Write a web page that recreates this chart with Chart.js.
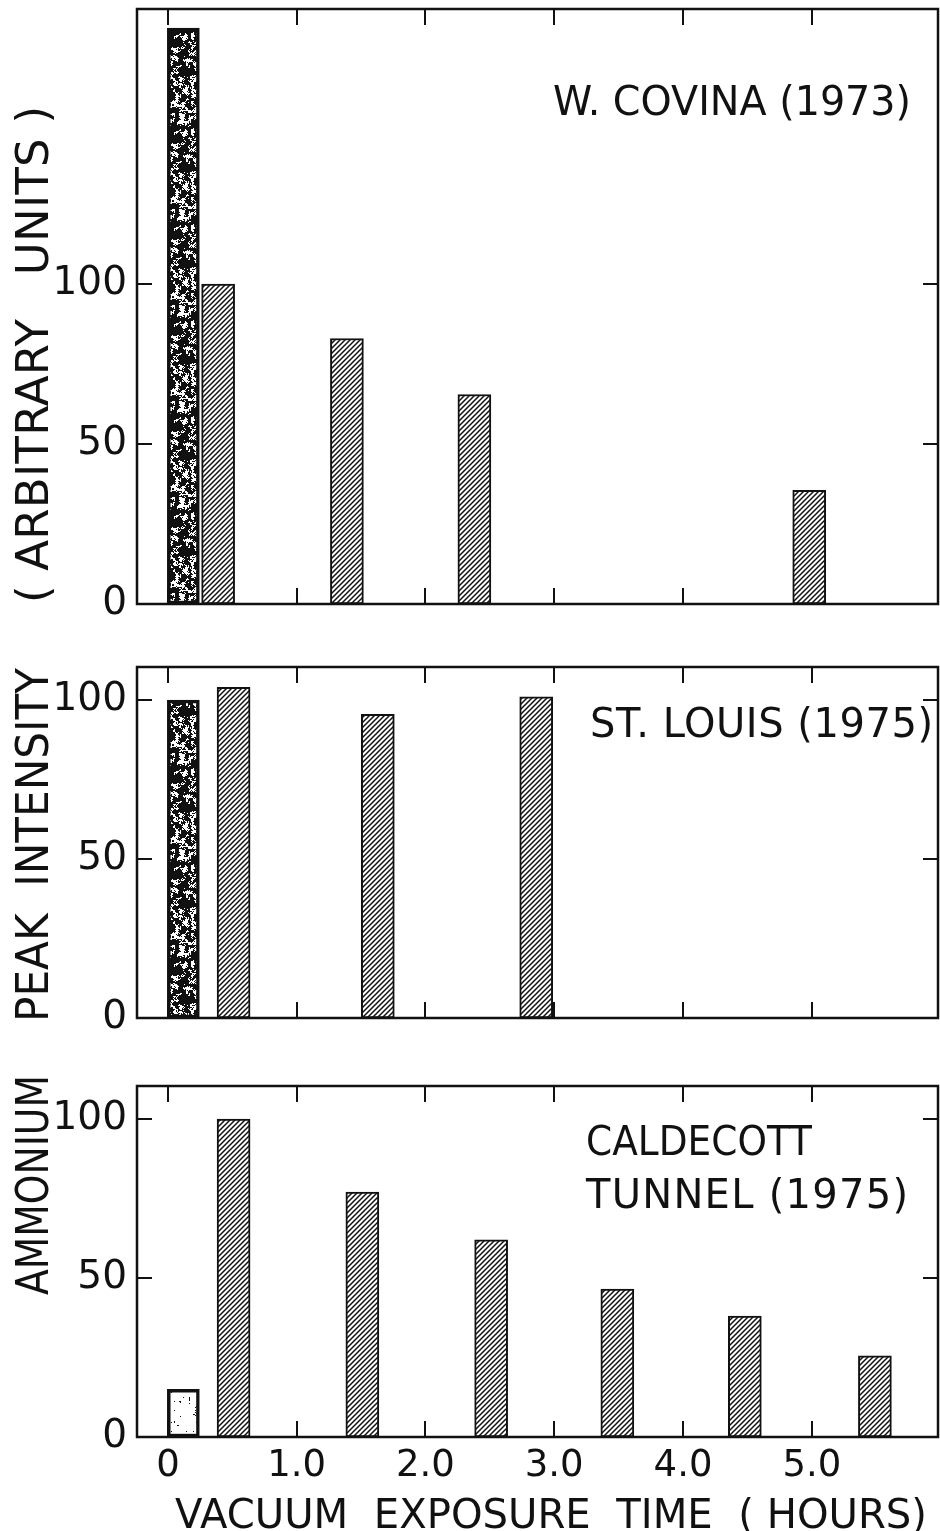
<!DOCTYPE html>
<html>
<head>
<meta charset="utf-8">
<title>Ammonium peak intensity vs vacuum exposure time</title>
<script src="https://cdn.jsdelivr.net/npm/chart.js@4.4.1/dist/chart.umd.min.js"></script>
<style>
  html, body { margin: 0; padding: 0; background: #fff; }
  #page { position: relative; width: 940px; height: 1531px; overflow: hidden; background: #fff; }
  #page canvas { position: absolute; left: 0; }
</style>
</head>
<body>
<div id="page">
  <canvas id="covina" width="940" height="640" style="top:0px"></canvas>
  <canvas id="stlouis" width="940" height="410" style="top:640px"></canvas>
  <canvas id="caldecott" width="940" height="481" style="top:1050px"></canvas>
</div>
<script>
// Shared axes: vacuum exposure time (hours) and peak intensity (arbitrary units)
const xTickValues = [0, 1, 2, 3, 4, 5];
const xTickLabels = ['0', '1.0', '2.0', '3.0', '4.0', '5.0'];
const yTickValues = [0, 50, 100];

// W. Covina (1973)
const covinaInitialTime = [0.12];
const covinaInitial = [180];
const covinaTime = [0.39, 1.39, 2.38, 4.98];
const covinaIntensity = [100, 83, 65.5, 35.5];

// St. Louis (1975)
const stLouisInitialTime = [0.12];
const stLouisInitial = [100];
const stLouisTime = [0.51, 1.63, 2.86];
const stLouisIntensity = [104, 95.5, 101];

// Caldecott Tunnel (1975)
const caldecottInitialTime = [0.12];
const caldecottInitial = [15];
const caldecottTime = [0.51, 1.51, 2.51, 3.49, 4.48, 5.49];
const caldecottIntensity = [100, 77, 62, 46.5, 38, 25.5];

const INK = '#111';
const FONT = '"DejaVu Sans", "Liberation Sans", sans-serif';

// ---- fill patterns -------------------------------------------------------
function hatchPattern() {
  const s = 5;
  const c = document.createElement('canvas');
  c.width = s; c.height = s;
  const g = c.getContext('2d');
  g.fillStyle = '#fff';
  g.fillRect(0, 0, s, s);
  g.strokeStyle = INK;
  g.lineWidth = 1.5;
  g.beginPath();
  g.moveTo(0, s); g.lineTo(s, 0);
  g.moveTo(-1, 1); g.lineTo(1, -1);
  g.moveTo(s - 1, s + 1); g.lineTo(s + 1, s - 1);
  g.stroke();
  return g.createPattern(c, 'repeat');
}

function hash(x, y, seed) {
  let h = (Math.imul(x, 374761393) + Math.imul(y, 668265263) + Math.imul(seed, 1442695041)) | 0;
  h = Math.imul(h ^ (h >>> 13), 1274126177);
  h = h ^ (h >>> 16);
  return (h >>> 0) / 4294967296;
}

// grainy print texture: coarse clumps mixed with fine grain
function stipplePattern(density, seed) {
  const cell = 3, w = 63, h = 96;
  const cw = w / cell, ch = h / cell;
  const c = document.createElement('canvas');
  c.width = w; c.height = h;
  const g = c.getContext('2d');
  const img = g.createImageData(w, h);
  for (let y = 0; y < h; y++) {
    for (let x = 0; x < w; x++) {
      const gx = x / cell, gy = y / cell;
      const ix = Math.floor(gx), iy = Math.floor(gy);
      const fx = gx - ix, fy = gy - iy;
      const a = hash(ix % cw, iy % ch, seed);
      const b = hash((ix + 1) % cw, iy % ch, seed);
      const d = hash(ix % cw, (iy + 1) % ch, seed);
      const e = hash((ix + 1) % cw, (iy + 1) % ch, seed);
      const smooth = (a * (1 - fx) + b * fx) * (1 - fy) + (d * (1 - fx) + e * fx) * fy;
      const v = smooth * 0.7 + hash(x, y, seed + 7) * 0.3;
      const dark = v < density;
      const k = (y * w + x) * 4;
      const col = dark ? 17 : 255;
      img.data[k] = col; img.data[k + 1] = col; img.data[k + 2] = col; img.data[k + 3] = 255;
    }
  }
  g.putImageData(img, 0, 0);
  return g.createPattern(c, 'repeat');
}

const hatch = hatchPattern();
const darkStipple = stipplePattern(0.6, 3);
const lightStipple = stipplePattern(0.2, 11);

// ---- text helpers ---------------------------------------------------------
// draws a line of capitals centred on cy (or cx when vertical), spanning `length` px
function drawSpanText(ctx, item) {
  ctx.save();
  ctx.font = `${item.size}px ${FONT}`;
  if ('letterSpacing' in ctx) ctx.letterSpacing = '0px';
  const w = ctx.measureText(item.text).width;
  let sx = 1;
  if (w < item.length && item.text.length > 1 && 'letterSpacing' in ctx) {
    ctx.letterSpacing = ((item.length - w) / (item.text.length - 1)) + 'px';
  } else {
    sx = item.length / w;
  }
  const capH = item.size * 0.729;
  ctx.fillStyle = INK;
  ctx.textAlign = 'left';
  ctx.textBaseline = 'alphabetic';
  if (item.vertical) {
    ctx.translate(item.cx, item.start);
    ctx.rotate(-Math.PI / 2);
  } else {
    ctx.translate(item.start, item.cy);
  }
  ctx.scale(sx, 1);
  ctx.fillText(item.text, 0, capH / 2);
  ctx.restore();
  if ('letterSpacing' in ctx) ctx.letterSpacing = '0px';
}

// ---- frame, inward ticks and panel captions -------------------------------
const panelDecor = {
  id: 'panelDecor',
  beforeDatasetsDraw(chart) {
    const { ctx, chartArea: a, scales: { x, y } } = chart;
    ctx.save();
    ctx.strokeStyle = INK;
    ctx.lineWidth = 2;
    ctx.beginPath();
    xTickValues.forEach(v => {
      const px = Math.round(x.getPixelForValue(v));
      ctx.moveTo(px, a.top); ctx.lineTo(px, a.top + 16);
      ctx.moveTo(px, a.bottom); ctx.lineTo(px, a.bottom - 16);
    });
    yTickValues.filter(v => v > 0).forEach(v => {
      const py = Math.round(y.getPixelForValue(v));
      ctx.moveTo(a.left, py); ctx.lineTo(a.left + 15, py);
      ctx.moveTo(a.right, py); ctx.lineTo(a.right - 15, py);
    });
    ctx.stroke();
    ctx.restore();
  },
  afterDatasetsDraw(chart, args, opts) {
    const { ctx, chartArea: a } = chart;
    ctx.save();
    ctx.strokeStyle = INK;
    ctx.lineWidth = 2.5;
    ctx.strokeRect(a.left, a.top, a.right - a.left, a.bottom - a.top);
    ctx.restore();
    (opts.texts || []).forEach(t => drawSpanText(ctx, t));
  }
};

// ---- panels ---------------------------------------------------------------
function makePanel(id, p) {
  const points = (xs, ys) => xs.map((t, i) => ({ x: t, y: ys[i] }));
  return new Chart(document.getElementById(id), {
    type: 'bar',
    data: {
      datasets: [
        {
          label: 'initial',
          data: points(p.initialTime, p.initial),
          backgroundColor: p.initialFill,
          borderColor: INK,
          borderWidth: 3.5,
          borderSkipped: false,
          barThickness: 32
        },
        {
          label: 'after vacuum exposure',
          data: points(p.time, p.values),
          backgroundColor: hatch,
          borderColor: INK,
          borderWidth: 2,
          borderSkipped: false,
          barThickness: 33
        }
      ]
    },
    options: {
      responsive: false,
      animation: false,
      events: [],
      layout: { padding: { top: p.padTop, bottom: p.padBottom, left: 0, right: 2 } },
      datasets: { bar: { grouped: false } },
      plugins: {
        legend: { display: false },
        tooltip: { enabled: false },
        panelDecor: { texts: p.texts }
      },
      scales: {
        x: {
          type: 'linear',
          min: -0.24,
          max: 5.98,
          offset: false,
          display: p.showX,
          grid: { display: false, drawTicks: false, offset: false },
          border: { display: false },
          afterBuildTicks: s => { s.ticks = xTickValues.map(v => ({ value: v })); },
          ticks: {
            autoSkip: false,
            maxRotation: 0,
            padding: 7,
            color: INK,
            font: { family: FONT, size: 37 },
            callback: (v, i) => xTickLabels[i]
          },
          afterFit: s => {
            s.height = p.showX ? 94 : 0;
            s.paddingLeft = 0; s.paddingRight = 0;
          }
        },
        y: {
          type: 'linear',
          min: 0,
          max: p.yMax,
          grid: { display: false, drawTicks: false },
          border: { display: false },
          afterBuildTicks: s => { s.ticks = yTickValues.map(v => ({ value: v })); },
          ticks: {
            padding: 10,
            color: INK,
            font: { family: FONT, size: 39 }
          },
          afterFit: s => { s.width = 137; s.paddingTop = 0; s.paddingBottom = 0; }
        }
      }
    },
    plugins: [panelDecor]
  });
}

makePanel('covina', {
  initialTime: covinaInitialTime, initial: covinaInitial,
  time: covinaTime, values: covinaIntensity,
  initialFill: darkStipple,
  yMax: 186, padTop: 9, padBottom: 36, showX: false,
  texts: [
    { text: 'W. COVINA (1973)', start: 553, cy: 100, length: 358, size: 40 },
    { text: '( ARBITRARY   UNITS )', vertical: true, cx: 32, start: 603, length: 497, size: 45 }
  ]
});

makePanel('stlouis', {
  initialTime: stLouisInitialTime, initial: stLouisInitial,
  time: stLouisTime, values: stLouisIntensity,
  initialFill: darkStipple,
  yMax: 110.4, padTop: 27, padBottom: 32, showX: false,
  texts: [
    { text: 'ST. LOUIS (1975)', start: 590, cy: 82, length: 343, size: 40 },
    { text: 'PEAK  INTENSITY', vertical: true, cx: 32, start: 382, length: 354, size: 45 }
  ]
});

makePanel('caldecott', {
  initialTime: caldecottInitialTime, initial: caldecottInitial,
  time: caldecottTime, values: caldecottIntensity,
  initialFill: [lightStipple],
  yMax: 110.4, padTop: 36, padBottom: 0, showX: true,
  texts: [
    { text: 'CALDECOTT', start: 586, cy: 90, length: 226, size: 40 },
    { text: 'TUNNEL (1975)', start: 586, cy: 143, length: 322, size: 40 },
    { text: 'AMMONIUM', vertical: true, cx: 32, start: 245, length: 220, size: 45 },
    { text: 'VACUUM  EXPOSURE  TIME  ( HOURS)', start: 175, cy: 463, length: 752, size: 41 }
  ]
});
</script>
</body>
</html>
